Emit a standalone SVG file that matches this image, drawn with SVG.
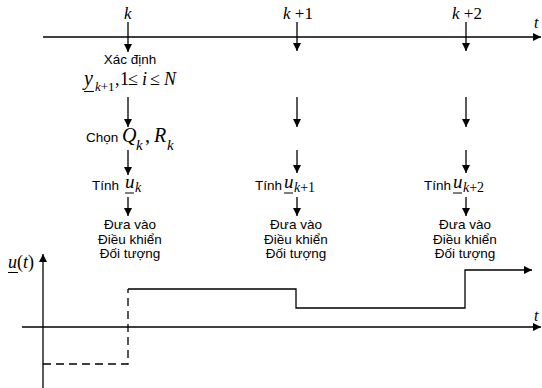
<svg xmlns="http://www.w3.org/2000/svg" width="542" height="388" viewBox="0 0 542 388">
<defs>
<marker id="ah" viewBox="0 0 10 10" refX="10" refY="5" markerUnits="userSpaceOnUse" markerWidth="9" markerHeight="8" orient="auto">
<path d="M0,0 L10,5 L0,10 z" fill="#000"/>
</marker>
</defs>
<style>
.s{font-family:"Liberation Sans",Arial,sans-serif;font-size:13.5px;fill:#000}
.m{font-family:"Liberation Serif","Times New Roman",serif;fill:#000}
.i{font-style:italic}
.ln{stroke:#000;stroke-width:1.3;fill:none}
.ar{stroke:#000;stroke-width:1.3;fill:none;marker-end:url(#ah)}
.ul{stroke:#000;stroke-width:1}
</style>
<rect width="542" height="388" fill="#fff"/>

<g id="axes">
<line class="ar" x1="43" y1="37" x2="541" y2="37"/>
<text class="m i" x="534" y="28" font-size="16">t</text>
<line class="ar" x1="43" y1="388" x2="43" y2="254"/>
<line class="ar" x1="22" y1="327" x2="541" y2="327"/>
<text class="m i" x="534" y="321" font-size="16">t</text>
<g id="ulabel">
<text class="m" x="8" y="268" font-size="18"><tspan class="i">u</tspan>(<tspan class="i">t</tspan>)</text>
<line class="ul" x1="8" y1="272.5" x2="18" y2="272.5"/>
</g>
</g>

<g id="ticks">
<text class="m i" x="124" y="19" font-size="17">k</text>
<text class="m" x="283" y="19" font-size="17"><tspan class="i">k</tspan> +1</text>
<text class="m" x="452" y="19" font-size="17"><tspan class="i">k</tspan> +2</text>
</g>

<g id="connectors">
<line class="ar" x1="128" y1="22" x2="128" y2="52"/>
<line class="ar" x1="297" y1="22" x2="297" y2="51"/>
<line class="ar" x1="466" y1="22" x2="466" y2="51"/>
<line class="ar" x1="128" y1="97" x2="128" y2="127"/>
<line class="ar" x1="297" y1="97" x2="297" y2="127"/>
<line class="ar" x1="466" y1="97" x2="466" y2="127"/>
<line class="ar" x1="128" y1="150" x2="128" y2="175"/>
<line class="ar" x1="297" y1="150" x2="297" y2="173"/>
<line class="ar" x1="466" y1="150" x2="466" y2="173"/>
<line class="ar" x1="128" y1="197" x2="128" y2="216"/>
<line class="ar" x1="297" y1="197" x2="297" y2="216"/>
<line class="ar" x1="466" y1="197" x2="466" y2="216"/>
</g>

<g id="node-xacdinh">
<text class="s" x="130" y="64" text-anchor="middle">Xác định</text>
<text class="m i" x="84" y="85" font-size="20">y</text>
<line class="ul" x1="84" y1="91.5" x2="94" y2="91.5"/>
<text class="m" x="95" y="91" font-size="13"><tspan class="i">k</tspan>+1</text>
<text class="m" x="115" y="85" font-size="18">,</text>
<text class="m" x="120" y="85" font-size="18">1</text>
<text class="m" x="128" y="85" font-size="18">≤</text>
<text class="m i" x="142" y="85" font-size="18">i</text>
<text class="m" x="150" y="85" font-size="18">≤</text>
<text class="m i" x="164" y="85" font-size="18">N</text>
</g>

<g id="node-chon">
<text class="s" x="86" y="142">Chọn</text>
<text class="m i" x="122" y="142" font-size="20">Q</text>
<text class="m i" x="136" y="150" font-size="15">k</text>
<text class="m" x="145" y="142" font-size="20">,</text>
<text class="m i" x="154" y="142" font-size="20">R</text>
<text class="m i" x="167" y="150" font-size="15">k</text>
</g>

<g id="node-tinh-k">
<text class="s" x="92" y="190">Tính</text>
<text class="m i" x="125" y="188" font-size="19">u</text>
<line class="ul" x1="125" y1="193" x2="134" y2="193"/>
<text class="m i" x="135" y="192" font-size="14">k</text>
</g>
<g id="node-tinh-k1">
<text class="s" x="255" y="190">Tính</text>
<text class="m i" x="284" y="188" font-size="19">u</text>
<line class="ul" x1="284" y1="193" x2="293" y2="193"/>
<text class="m" x="294" y="192" font-size="14"><tspan class="i">k</tspan>+1</text>
</g>
<g id="node-tinh-k2">
<text class="s" x="424" y="190">Tính</text>
<text class="m i" x="453" y="188" font-size="19">u</text>
<line class="ul" x1="453" y1="193" x2="462" y2="193"/>
<text class="m" x="463" y="192" font-size="14"><tspan class="i">k</tspan>+2</text>
</g>

<g id="node-apply-k">
<text class="s" x="130" y="229" text-anchor="middle">Đưa vào</text>
<text class="s" x="130" y="244" text-anchor="middle">Điều khiển</text>
<text class="s" x="130" y="258" text-anchor="middle">Đối tượng</text>
</g>
<g id="node-apply-k1">
<text class="s" x="296" y="229" text-anchor="middle">Đưa vào</text>
<text class="s" x="296" y="244" text-anchor="middle">Điều khiển</text>
<text class="s" x="296" y="258" text-anchor="middle">Đối tượng</text>
</g>
<g id="node-apply-k2">
<text class="s" x="465" y="229" text-anchor="middle">Đưa vào</text>
<text class="s" x="465" y="244" text-anchor="middle">Điều khiển</text>
<text class="s" x="465" y="258" text-anchor="middle">Đối tượng</text>
</g>

<g id="signal">
<path d="M43 364 H128 V289" fill="none" stroke="#000" stroke-width="1.3" stroke-dasharray="8 5"/>
<path class="ar" d="M128 289 H296 V308 H465 V270 H532" stroke-width="1.5"/>
</g>
</svg>
